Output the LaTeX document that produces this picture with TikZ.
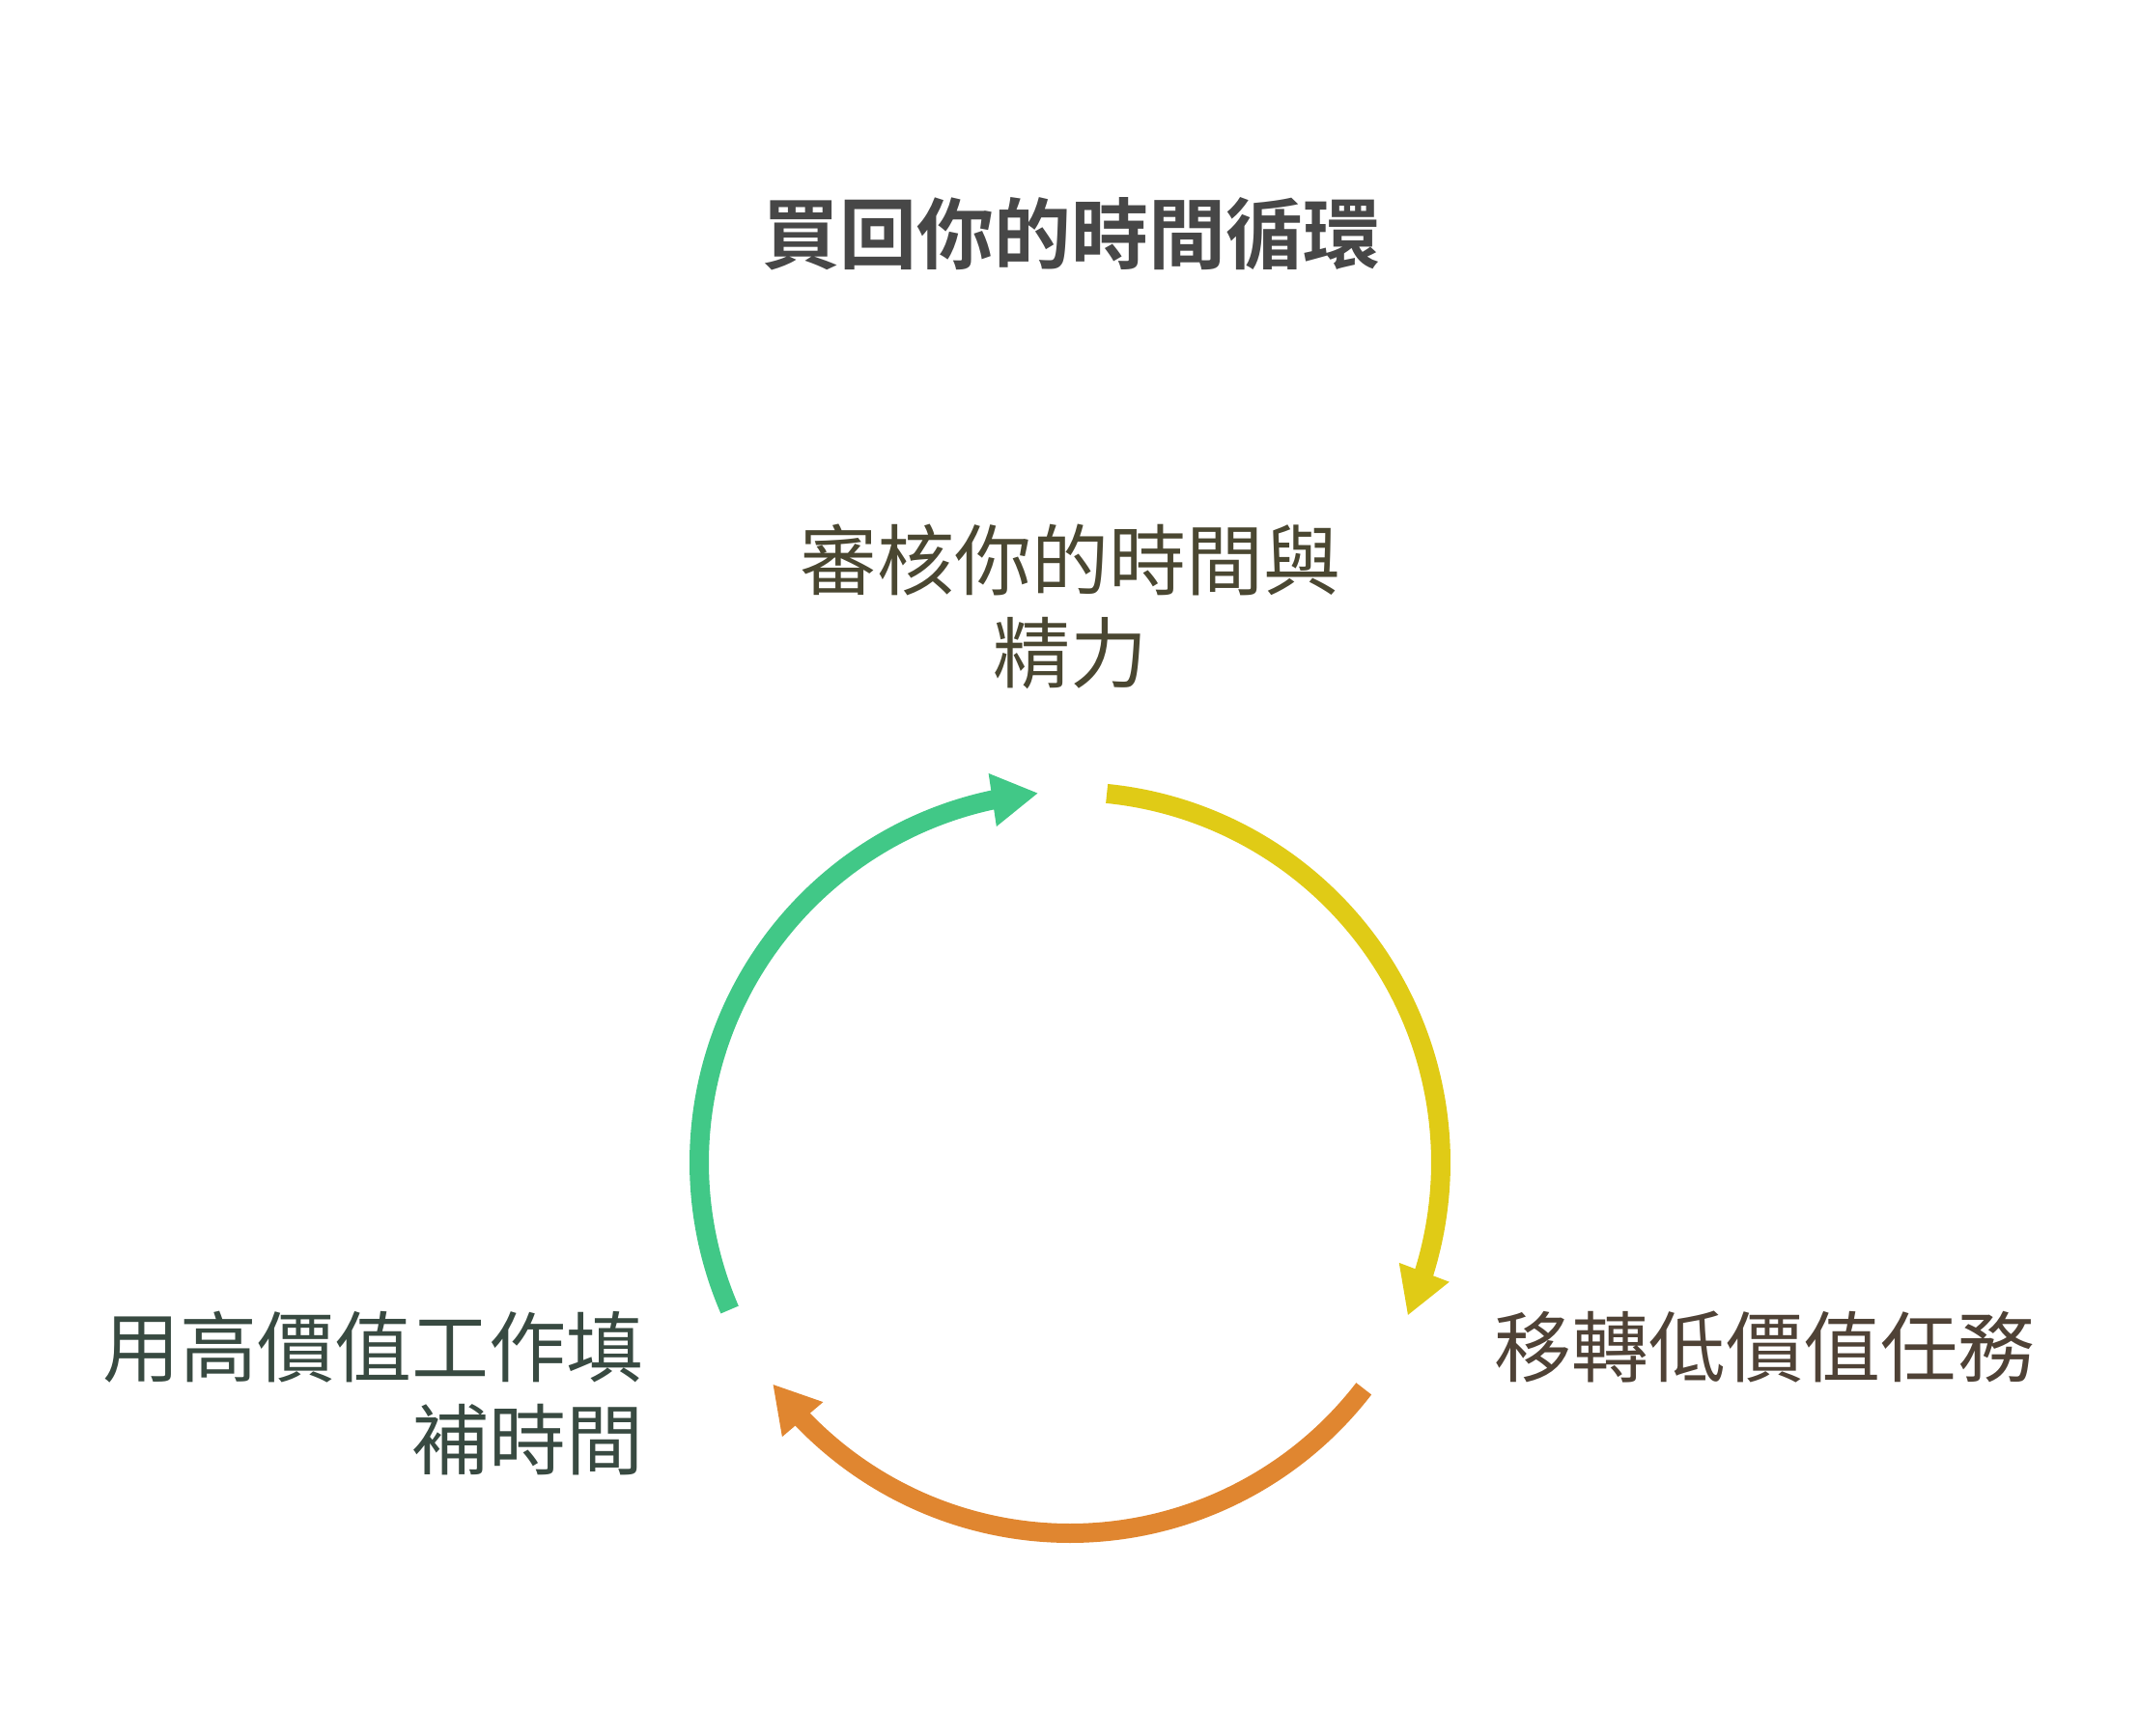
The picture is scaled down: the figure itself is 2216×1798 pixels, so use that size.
\documentclass[tikz,border=0pt]{standalone}
\usepackage{fontspec}
\usepackage{xcolor}
\usepackage{tikz}
\usetikzlibrary{arrows.meta, bending, positioning, calc}
\newfontfamily\cjk{Noto Sans CJK TC}
\newfontfamily\cjkbf{Noto Sans CJK TC Bold}
\definecolor{titlegray}{HTML}{474747}
\definecolor{olivetext}{HTML}{4A4731}
\definecolor{browntext}{HTML}{4F4236}
\definecolor{greentext}{HTML}{384A41}
\definecolor{arcgreen}{HTML}{41C887}
\definecolor{arcyellow}{HTML}{E0CB16}
\definecolor{arcorange}{HTML}{E08630}
\begin{document}
\begin{tikzpicture}[
    x=1pt, y=1pt,
    % Text styles
    titlelab/.style={inner sep=0pt, font=\cjkbf\fontsize{80}{96}\selectfont, text=titlegray},
    steplab/.style={inner sep=0pt, font=\cjk\fontsize{80}{96}\selectfont},
    % Arc styles
    cyclearc/.style={line width=20pt, -{Triangle[length=48pt, width=52pt]}},
    greenarc/.style={cyclearc, draw=arcgreen},
    yellowarc/.style={cyclearc, draw=arcyellow},
    orangearc/.style={cyclearc, draw=arcorange}
]
\useasboundingbox (0,0) rectangle (2216,-1798);

% Title
\node[titlelab] (title) at (1109,-242) {買回你的時間循環};

% Step labels
\node[steplab, text=olivetext, align=center] (audit) at (1108,-628) {審核你的時間與\\精力};
\node[steplab, text=browntext, anchor=west] (shift) at (1547,-1395) {移轉低價值任務};
\node[steplab, text=greentext, align=right, anchor=east] (fill) at (667,-1443) {用高價值工作填\\補時間};

% Cycle arcs
\coordinate (c) at (1108,-1204);
\draw[yellowarc] (c) ++(84.3:384pt) arc[start angle=84.3, end angle=-24.4, radius=384pt];
\draw[orangearc] (c) ++(-37.6:384pt) arc[start angle=-37.6, end angle=-143.3, radius=384pt];
\draw[greenarc] (c) ++(203.4:384pt) arc[start angle=203.4, end angle=94.9, radius=384pt];

\end{tikzpicture}
\end{document}
